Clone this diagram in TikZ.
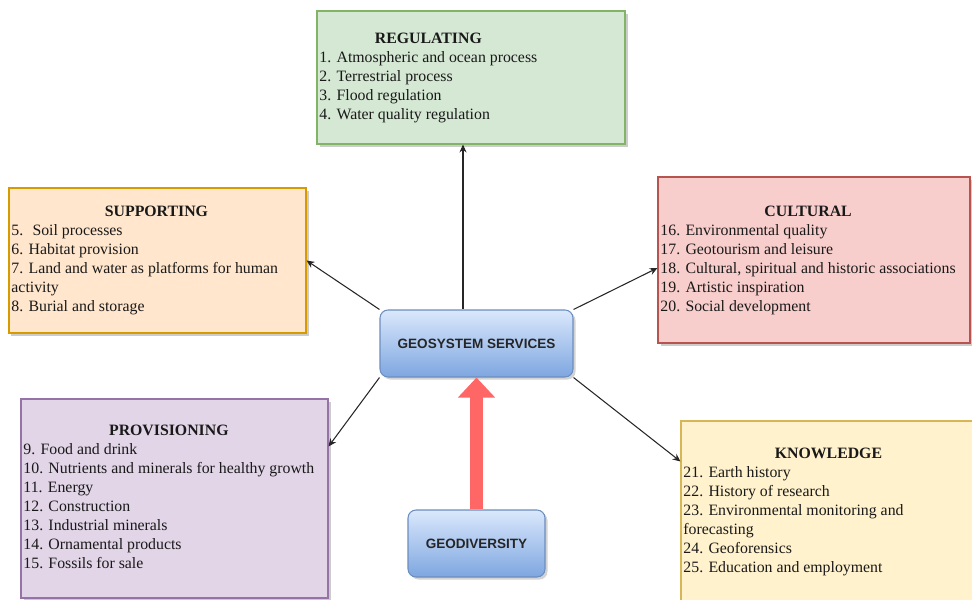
\documentclass[tikz,border=0pt]{standalone}
\usepackage{fontspec}
\setmainfont{Liberation Serif}
\setsansfont{Liberation Sans}
\usetikzlibrary{arrows.meta,shadows,calc}
\definecolor{regfill}{HTML}{D5E8D4}
\definecolor{regline}{HTML}{82B366}
\definecolor{supfill}{HTML}{FFE6CC}
\definecolor{supline}{HTML}{D79B00}
\definecolor{culfill}{HTML}{F8CECC}
\definecolor{culline}{HTML}{B85450}
\definecolor{provfill}{HTML}{E1D5E7}
\definecolor{provline}{HTML}{9673A6}
\definecolor{knwfill}{HTML}{FFF2CC}
\definecolor{knwline}{HTML}{D6B656}
\definecolor{gstop}{HTML}{DAE8FC}
\definecolor{gsbot}{HTML}{7EA6E0}
\definecolor{gsline}{HTML}{6C8EBF}
\definecolor{fatred}{HTML}{FF6666}
\begin{document}
\begin{tikzpicture}
 \tikzstyle{svcbox}=[rectangle, inner sep=0pt, line width=0.6pt, drop shadow={shadow xshift=0.05cm, shadow yshift=-0.05cm, opacity=0.4}]
 \tikzstyle{listtext}=[inner sep=1.5pt, font=\fontsize{9}{10.8}\selectfont, text=black!90]
 \tikzstyle{bluebox}=[rectangle, rounded corners=0.16cm, top color=gstop, bottom color=gsbot, draw=gsline, line width=0.6pt, font=\sffamily\bfseries\fontsize{7.7}{9}\selectfont, text=black!85, drop shadow={shadow xshift=0.05cm, shadow yshift=-0.05cm, opacity=0.35}]
 \tikzstyle{svcarrow}=[-{Stealth[length=4.5pt,width=4pt]}, line width=0.6pt, black!85]
\useasboundingbox (0,0) rectangle (19.44,-11.98);
% service boxes
\draw (9.42,-1.55) node[svcbox, fill=regfill, draw=regline, minimum width=6.16cm, minimum height=2.66cm] (reg) {};
\draw (3.15,-5.21) node[svcbox, fill=supfill, draw=supline, minimum width=5.94cm, minimum height=2.90cm] (sup) {};
\draw (16.28,-5.20) node[svcbox, fill=culfill, draw=culline, minimum width=6.24cm, minimum height=3.32cm] (cul) {};
\draw (3.49,-9.97) node[svcbox, fill=provfill, draw=provline, minimum width=6.14cm, minimum height=3.98cm] (prov) {};
\draw (16.56,-10.23) node[svcbox, fill=knwfill, draw=knwline, minimum width=5.88cm, minimum height=3.62cm] (knw) {};
% box texts
\draw (reg.west) node[listtext, anchor=west] (regtxt) {\begin{tabular}{@{}l@{}}
\multicolumn{1}{@{}c@{}}{\textbf{REGULATING}}\\
1. Atmospheric and ocean process\\
2. Terrestrial process\\
3. Flood regulation\\
4. Water quality regulation
\end{tabular}};
\draw (sup.west) node[listtext, anchor=west] (suptxt) {\begin{tabular}{@{}p{5.8cm}@{}}
\multicolumn{1}{@{}c@{}}{\textbf{SUPPORTING}}\\
5.~ Soil processes\\
6. Habitat provision\\
7. Land and water as platforms for human\\
activity\\
8. Burial and storage
\end{tabular}};
\draw (cul.west) node[listtext, anchor=west] (cultxt) {\begin{tabular}{@{}l@{}}
\multicolumn{1}{@{}c@{}}{\textbf{CULTURAL}}\\
16. Environmental quality\\
17. Geotourism and leisure\\
18. Cultural, spiritual and historic associations\\
19. Artistic inspiration\\
20. Social development
\end{tabular}};
\draw (prov.west) node[listtext, anchor=west] (provtxt) {\begin{tabular}{@{}l@{}}
\multicolumn{1}{@{}c@{}}{\textbf{PROVISIONING}}\\
9. Food and drink\\
10. Nutrients and minerals for healthy growth\\
11. Energy\\
12. Construction\\
13. Industrial minerals\\
14. Ornamental products\\
15. Fossils for sale
\end{tabular}};
\draw (knw.west) node[listtext, anchor=west] (knwtxt) {\begin{tabular}{@{}p{5.8cm}@{}}
\multicolumn{1}{@{}c@{}}{\textbf{KNOWLEDGE}}\\
21. Earth history\\
22. History of research\\
23. Environmental monitoring and\\
forecasting\\
24. Geoforensics\\
25. Education and employment
\end{tabular}};
% centre boxes
\draw (9.53,-6.87) node[bluebox, minimum width=3.86cm, minimum height=1.34cm] (gs) {GEOSYSTEM SERVICES};
\draw (9.53,-10.87) node[bluebox, minimum width=2.74cm, minimum height=1.34cm] (geo) {GEODIVERSITY};
% connectors
\draw[svcarrow] ($(gs.north)+(-0.27,0)$) -- ($(reg.south)+(-0.16,0)$);
\draw[svcarrow] (gs.north west) -- (sup.east);
\draw[svcarrow] (gs.north east) -- ($(cul.west)+(0,-0.16)$);
\draw[svcarrow] (gs.south west) -- ($(prov.north east)+(0,-0.96)$);
\draw[svcarrow] (gs.south east) -- ($(knw.north west)+(0,-0.82)$);
\draw[-{Triangle[length=0.4cm,width=0.72cm]}, line width=0.26cm, fatred] (geo.north) -- (gs.south);
\end{tikzpicture}
\end{document}
